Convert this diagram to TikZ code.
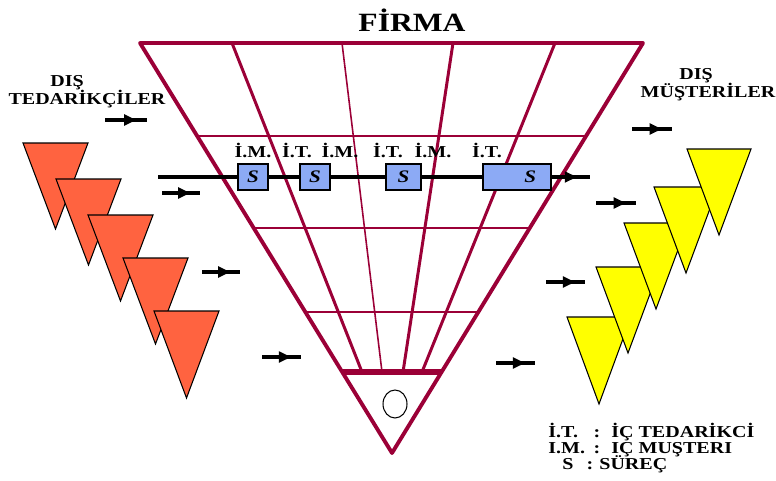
\documentclass[tikz,border=0pt]{standalone}
\usepackage{fontspec}
\setmainfont{Liberation Serif}
\newfontfamily\wideserif[FakeStretch=1.2]{Liberation Serif}
\usetikzlibrary{arrows.meta,calc,decorations.markings}
\definecolor{funnelred}{RGB}{155,0,55}
\definecolor{supplierred}{RGB}{255,99,64}
\definecolor{customeryellow}{RGB}{255,255,0}
\definecolor{processblue}{RGB}{140,170,245}

\begin{document}
\begin{tikzpicture}[x=0.02cm,y=-0.02cm,
  every node/.style={font=\wideserif\bfseries\fontsize{9.5}{10}\selectfont,inner sep=0pt},
  edge/.style={draw=funnelred,line width=2.2pt,line join=round},
  fan/.style={draw=funnelred,line width=1.7pt},
  ring/.style={draw=funnelred,line width=0.8pt},
  supplier/.style={draw=black,fill=supplierred,line width=0.6pt},
  customer/.style={draw=black,fill=customeryellow,line width=0.6pt},
  flow/.style={draw=black,line width=2pt,postaction={decorate},
    decoration={markings,mark=at position #1 with {\arrow{Triangle[length=7pt,width=6pt]}}}},
  flow/.default=0.75,
  sbox/.style={draw=black,line width=0.8pt,fill=processblue,minimum width=0.6cm,minimum height=0.52cm,
    font=\wideserif\bfseries\itshape\fontsize{10}{10}\selectfont}]
\useasboundingbox (0,0) rectangle (776,480);

% title
\node[font=\wideserif\bfseries\fontsize{15}{15}\selectfont] (firma) at (412,20) {FİRMA};

% funnel
\coordinate (TL) at (140,43);
\coordinate (TR) at (643,43);
\coordinate (A) at (392,453);
\draw[ring] ($(TL)!0.227!(A)$) -- ($(TR)!0.227!(A)$);
\draw[ring] ($(TL)!0.451!(A)$) -- ($(TR)!0.451!(A)$);
\draw[ring] ($(TL)!0.656!(A)$) -- ($(TR)!0.656!(A)$);
\draw[fan] (232,43) -- (362,372);
\draw[draw=funnelred,line width=0.9pt] (342,43) -- (382,372);
\draw[fan] (453,43) -- (403,372);
\draw[fan] (555,43) -- (422,372);
\draw[draw=funnelred,line width=3.4pt] ($(TL)!0.802!(A)$) -- ($(TR)!0.802!(A)$);
\draw[edge] (TL) -- (TR) -- (A) -- cycle;
\draw[line width=0.6pt] (395,404) ellipse [x radius=12,y radius=14];

% process line
\draw[flow=0.97] (158,177) -- (590,177);
\node[sbox] (s1) at (253,177) {S};
\node[sbox] (s2) at (315,177) {S};
\node[sbox,minimum width=0.7cm] (s3) at (403.5,177) {S};
\node[sbox,minimum width=1.36cm,text width=0.76cm,align=right] (s4) at (517,177) {S};
\node[anchor=base] (im1) at (253,157) {İ.M.};
\node[anchor=base] (it1) at (297,157) {İ.T.};
\node[anchor=base] (im2) at (340,157) {İ.M.};
\node[anchor=base] (it2) at (388,157) {İ.T.};
\node[anchor=base] (im3) at (433,157) {İ.M.};
\node[anchor=base] (it3) at (487,157) {İ.T.};

% suppliers
\node[anchor=base] (dis1) at (67,86) {DIŞ};
\node[anchor=base] (tedarik) at (87,104) {TEDARİKÇİLER};
\draw[supplier] (23,143) -- ++(65,0) -- ++(-32.5,86) -- cycle;
\draw[supplier] (56,179) -- ++(65,0) -- ++(-32.5,86) -- cycle;
\draw[supplier] (88,215) -- ++(65,0) -- ++(-32.5,86) -- cycle;
\draw[supplier] (123,258) -- ++(65,0) -- ++(-32.5,86) -- cycle;
\draw[supplier] (154,311) -- ++(65,0) -- ++(-32.5,87) -- cycle;
\draw[flow] (105,120) -- (147,120);
\draw[flow] (162,193) -- (200,193);
\draw[flow] (202,272) -- (240,272);
\draw[flow] (262,357) -- (301,357);

% customers
\node[anchor=base] (dis2) at (696,79) {DIŞ};
\node[anchor=base] (muster) at (708,97) {MÜŞTERİLER};
\draw[customer] (567,317) -- ++(64,0) -- ++(-32,87) -- cycle;
\draw[customer] (596,267) -- ++(64,0) -- ++(-32,86) -- cycle;
\draw[customer] (624,223) -- ++(64,0) -- ++(-32,86) -- cycle;
\draw[customer] (654,187) -- ++(64,0) -- ++(-32,86) -- cycle;
\draw[customer] (687,149) -- ++(64,0) -- ++(-32,86) -- cycle;
\draw[flow] (632,129) -- (672,129);
\draw[flow] (596,203) -- (636,203);
\draw[flow] (546,282) -- (585,282);
\draw[flow] (496,363) -- (535,363);

% legend
\node[anchor=base west] (kit) at (548,437) {İ.T.};
\node[anchor=base] (c1) at (597,437) {:};
\node[anchor=base west] (vit) at (611,437) {İÇ TEDARİKCİ};
\node[anchor=base west] (kim) at (548,453) {I.M.};
\node[anchor=base] (c2) at (597,453) {:};
\node[anchor=base west] (vim) at (611,453) {IÇ MUŞTERI};
\node[anchor=base] (ks) at (568,469) {S};
\node[anchor=base] (c3) at (590,469) {:};
\node[anchor=base west] (vs) at (599,469) {SÜREÇ};
\end{tikzpicture}
\end{document}
